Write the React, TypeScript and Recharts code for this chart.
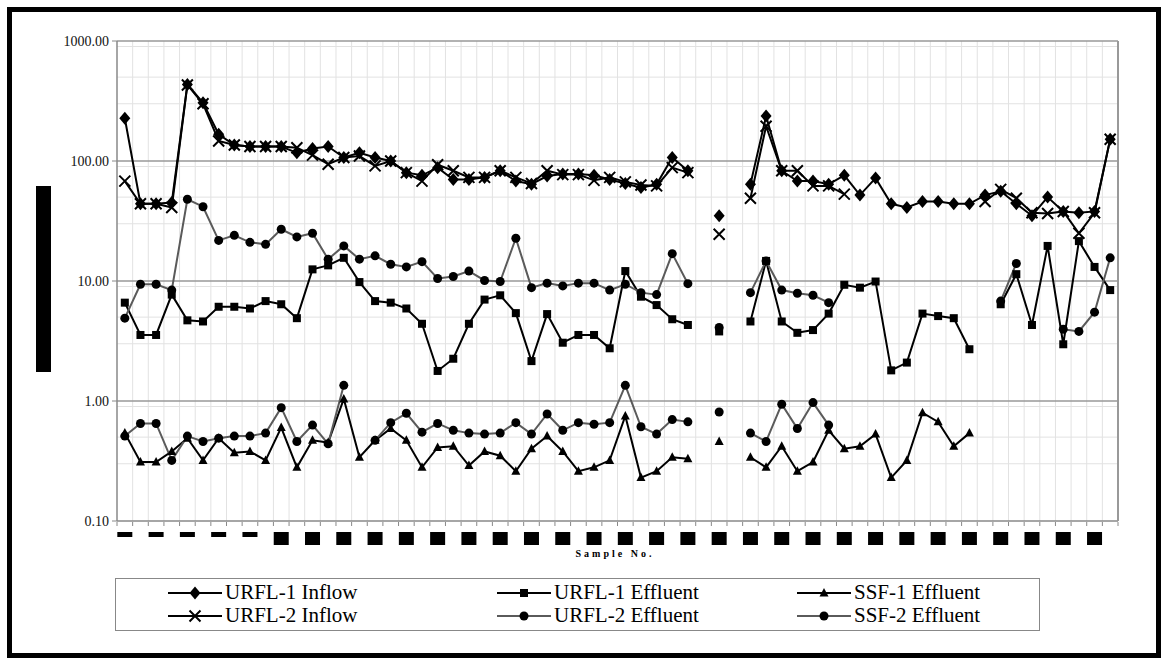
import React from 'react';
import { LineChart, Line, XAxis, YAxis, CartesianGrid, ReferenceLine } from 'recharts';

// sample numbers (labels are blacked out in the source figure)
const samples = Array.from({ length: 64 }, (_, i) => String(i + 1));

const urfl1Inflow = [
  227, 44, 44, 45, 435, 306, 167, 136, 132, 132, 132, 117, 127, 132, 107, 117,
  107, 100, 80, 76, 88, 70, 70, 73, 83, 68, 64, 75, 78, 78, 76, 70,
  65, 60, 64, 107, 83, null, 35, null, 64, 237, 83, 68, 68, 64, 76, 52,
  72, 44, 41, 46, 46, 44, 44, 52, 56, 44, 35, 50, 38, 37, 38, 152,
];
const urfl2Inflow = [
  68, 44, 44, 41, 430, 300, 147, 136, 132, 132, 132, 129, 112, 94, 107, 110,
  91, 100, 80, 68, 93, 83, 73, 73, 83, 73, 65, 83, 77, 77, 69, 73,
  67, 63, 62, 88, 80, null, 24.5, null, 49, 195, 83, 83, 62, 62, 53, null,
  null, null, null, null, null, null, null, 46, 58, 49, 37, 36.5, 38, 25, 37, 152,
];
const urfl1Effluent = [
  6.6, 3.55, 3.55, 7.7, 4.7, 4.6, 6.1, 6.1, 5.9, 6.8, 6.4, 4.9, 12.5, 13.5, 15.6, 9.8,
  6.8, 6.6, 5.9, 4.4, 1.78, 2.25, 4.4, 7.0, 7.6, 5.4, 2.15, 5.3, 3.06, 3.55, 3.55, 2.75,
  12.1, 7.4, 6.3, 4.8, 4.3, null, 3.8, null, 4.6, 14.7, 4.6, 3.7, 3.9, 5.35, 9.3, 8.8,
  9.9, 1.8, 2.09, 5.35, 5.1, 4.9, 2.7, null, 6.4, 11.4, 4.3, 19.6, 2.97, 21.5, 13.1, 8.4,
];
const urfl2Effluent = [
  4.9, 9.4, 9.4, 8.4, 48, 41.6, 21.8, 24, 21, 20.2, 27, 23.3, 25, 15.2, 19.6, 15.2,
  16.2, 13.8, 13.1, 14.5, 10.5, 10.9, 12.1, 10.1, 9.9, 22.7, 8.8, 9.6, 9.1, 9.6, 9.6, 8.4,
  9.4, 8.0, 7.7, 16.9, 9.5, null, 4.1, null, 8.0, 14.7, 8.4, 7.9, 7.6, 6.6, null, null,
  null, null, null, null, null, null, null, null, 6.8, 14.0, null, null, 3.96, 3.8, 5.5, 15.6,
];
const ssf1Effluent = [
  0.54, 0.31, 0.31, 0.38, 0.49, 0.32, 0.49, 0.37, 0.38, 0.32, 0.6, 0.28, 0.47, 0.45, 1.04, 0.34,
  0.47, 0.59, 0.47, 0.28, 0.41, 0.42, 0.29, 0.38, 0.35, 0.26, 0.4, 0.51, 0.38, 0.26, 0.28, 0.32,
  0.75, 0.23, 0.26, 0.34, 0.33, null, 0.46, null, 0.34, 0.28, 0.42, 0.26, 0.31, 0.57, 0.4, 0.42,
  0.53, 0.23, 0.32, 0.8, 0.67, 0.42, 0.54, null, null, null, null, null, null, null, null, null,
];
const ssf2Effluent = [
  0.51, 0.65, 0.65, 0.32, 0.51, 0.46, 0.49, 0.51, 0.51, 0.54, 0.88, 0.46, 0.63, 0.44, 1.35, null,
  0.47, 0.66, 0.79, 0.55, 0.65, 0.57, 0.54, 0.53, 0.54, 0.66, 0.53, 0.78, 0.57, 0.66, 0.64, 0.66,
  1.35, 0.61, 0.53, 0.7, 0.67, null, 0.81, null, 0.54, 0.46, 0.94, 0.59, 0.97, 0.63, null, null,
  null, null, null, null, null, null, null, null, null, null, null, null, null, null, null, null,
];

const decadeTicks = [0.1, 1, 10, 100, 1000];
const minorTicks = [0.1, 1, 10, 100].flatMap(d => [2, 3, 4, 5, 6, 7, 8, 9].map(m => +(d * m).toPrecision(2)));
const boundaries = Array.from({ length: samples.length + 1 }, (_, i) => i);

const data = samples.map((s, i) => ({
  sample: s,
  n: i,
  urfl1In: urfl1Inflow[i],
  urfl2In: urfl2Inflow[i],
  urfl1Eff: urfl1Effluent[i],
  urfl2Eff: urfl2Effluent[i],
  ssf1Eff: ssf1Effluent[i],
  ssf2Eff: ssf2Effluent[i],
}));

const W = 1164;
const H = 658;
const MARGIN = { top: 41, right: 46, left: 0, bottom: 136 };
const Y_AXIS_W = 117;
const STEP = (W - MARGIN.left - MARGIN.right - Y_AXIS_W) / samples.length;

const GREY = '#5a5a5a';
const SERIF = '"Liberation Serif", "Times New Roman", serif';

type Mk = 'diamond' | 'x' | 'square' | 'triangle' | 'circle';

function marker(kind: Mk, cx: number, cy: number, key?: string) {
  switch (kind) {
    case 'diamond':
      return <path key={key} d={`M${cx},${cy - 6.5}L${cx + 5.5},${cy}L${cx},${cy + 6.5}L${cx - 5.5},${cy}Z`} fill="#000" />;
    case 'x':
      return (
        <path key={key} d={`M${cx - 5.5},${cy - 5.5}L${cx + 5.5},${cy + 5.5}M${cx + 5.5},${cy - 5.5}L${cx - 5.5},${cy + 5.5}`}
          stroke="#000" strokeWidth={2} fill="none" />
      );
    case 'square':
      return <rect key={key} x={cx - 4} y={cy - 4} width={8} height={8} fill="#000" />;
    case 'triangle':
      return <path key={key} d={`M${cx},${cy - 5}L${cx + 4.5},${cy + 3.5}L${cx - 4.5},${cy + 3.5}Z`} fill="#000" />;
    default:
      return <circle key={key} cx={cx} cy={cy} r={4.5} fill="#000" />;
  }
}

const dotOf = (kind: Mk) => (p: any) => {
  const key = `${kind}-${p.index}`;
  if (p.cx == null || p.cy == null || p.value == null || Number.isNaN(p.cy)) return <g key={key} />;
  return marker(kind, p.cx, p.cy, key);
};

// tick marks sit on the category boundaries; the (redacted) labels on every second sample
const BoxTick = (p: any) => {
  const idx = p.payload?.index ?? p.index ?? 0;
  const axisY = H - MARGIN.bottom;
  const left = p.x - STEP / 2;
  return (
    <g>
      <line x1={left} y1={axisY} x2={left} y2={axisY + 4} stroke="#888" />
      {idx === samples.length - 1 && (
        <line x1={p.x + STEP / 2} y1={axisY} x2={p.x + STEP / 2} y2={axisY + 4} stroke="#888" />
      )}
      {idx % 2 === 0 && (
        <rect x={p.x - 7.5} y={axisY + 10} width={15} height={idx < 10 ? 5 : 13} fill="#000" />
      )}
    </g>
  );
};

const series = [
  { key: 'urfl1In', name: 'URFL-1 Inflow', mk: 'diamond' as Mk, color: '#000' },
  { key: 'urfl2In', name: 'URFL-2 Inflow', mk: 'x' as Mk, color: '#000' },
  { key: 'urfl1Eff', name: 'URFL-1 Effluent', mk: 'square' as Mk, color: '#000' },
  { key: 'urfl2Eff', name: 'URFL-2 Effluent', mk: 'circle' as Mk, color: GREY },
  { key: 'ssf1Eff', name: 'SSF-1 Effluent', mk: 'triangle' as Mk, color: '#000' },
  { key: 'ssf2Eff', name: 'SSF-2 Effluent', mk: 'circle' as Mk, color: GREY },
];

const legendCols = [
  { left: 168, items: [series[0], series[1]] },
  { left: 497, items: [series[2], series[3]] },
  { left: 797, items: [series[4], series[5]] },
];

const LegendSample = ({ mk, color }: { mk: Mk; color: string }) => (
  <svg width={54} height={16} style={{ display: 'block' }}>
    <line x1={0} y1={8} x2={54} y2={8} stroke={color} strokeWidth={2} />
    {marker(mk, 27, 8)}
  </svg>
);

export default function App() {
  return (
    <div style={{ position: 'absolute', left: 0, top: 0, width: W, height: H, background: '#fff' }}>
      <div style={{
        position: 'absolute', left: 7, top: 7, width: 1154, height: 651,
        border: '5px solid #000', boxSizing: 'border-box',
      }} />
      {/* y axis title (blacked out in the source) */}
      <div style={{ position: 'absolute', left: 36, top: 186, width: 15, height: 186, background: '#000' }} />

      <div style={{ position: 'absolute', left: 0, top: 0 }}>
        <LineChart width={W} height={H} data={data} margin={MARGIN}>
          <XAxis dataKey="n" type="number" domain={[0, 64]} allowDataOverflow height={1} hide />
          <XAxis xAxisId="cat" dataKey="sample" height={1} interval={0} padding={{ left: STEP / 2, right: STEP / 2 }}
            axisLine={false} tickLine={false} tickSize={0} tickMargin={0} tick={<BoxTick />} />
          <YAxis scale="log" type="number" domain={[0.1, 1000]} allowDataOverflow ticks={decadeTicks} width={Y_AXIS_W}
            tickFormatter={(v: number) => v.toFixed(2)} tickSize={5} tickMargin={3}
            axisLine={{ stroke: '#888', strokeWidth: 1.5 }} tickLine={{ stroke: '#888' }}
            tick={{ fill: '#111', fontSize: 14, fontFamily: SERIF }} />
          <CartesianGrid stroke="#e2e2e2" vertical={false} horizontalValues={minorTicks} />
          {boundaries.slice(1, -1).map(b => (
            <ReferenceLine key={`v${b}`} x={b} stroke="#e2e2e2" />
          ))}
          {decadeTicks.slice(1).map(v => (
            <ReferenceLine key={v} y={v} stroke="#999" strokeWidth={1.5} />
          ))}
          <ReferenceLine y={0.1} stroke="#888" strokeWidth={1.5} />
          <ReferenceLine x={64} stroke="#999" strokeWidth={2} />
          {series.map(s => (
            <Line key={s.key} xAxisId="cat" dataKey={s.key} name={s.name} stroke={s.color} strokeWidth={2}
              dot={dotOf(s.mk)} activeDot={false} isAnimationActive={false} />
          ))}
        </LineChart>
      </div>

      <div style={{
        position: 'absolute', left: 565, top: 548, width: 100, textAlign: 'center',
        fontFamily: SERIF, fontWeight: 'bold', fontSize: 10, letterSpacing: 3, color: '#000',
      }}>Sample No.</div>

      <div style={{
        position: 'absolute', left: 115, top: 578, width: 925, height: 53,
        border: '1px solid #888', boxSizing: 'border-box',
      }} />
      {legendCols.map((c, ci) => (
        <div key={ci} style={{ position: 'absolute', left: c.left, top: 581 }}>
          {c.items.map(it => (
            <div key={it.key} style={{ display: 'flex', alignItems: 'center', height: 23 }}>
              <LegendSample mk={it.mk} color={it.color} />
              <span style={{ fontFamily: SERIF, fontSize: 21, marginLeft: 3, lineHeight: '23px', color: '#000' }}>{it.name}</span>
            </div>
          ))}
        </div>
      ))}
    </div>
  );
}
